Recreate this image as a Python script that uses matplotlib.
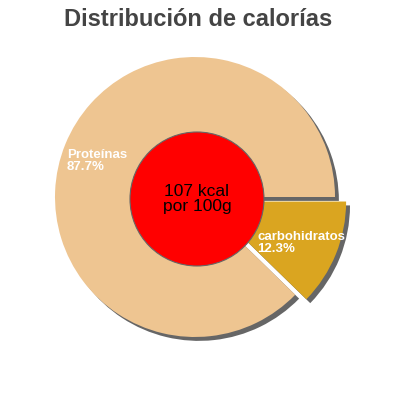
import matplotlib
matplotlib.use("Agg")
from matplotlib import pyplot as plt
from matplotlib.patches import Circle

labels = ["carbohidratos", "Proteínas"]
shares = [12.3, 87.7]
colors = ["#DAA520", "#EEC591"]
energy_text = "107 kcal\npor 100g"
title = "Distribución de calorías"

plt.rcParams["font.family"] = ["Liberation Sans", "DejaVu Sans"]

fig = plt.figure(figsize=(4, 4), dpi=100)
ax = fig.add_axes([0, 0, 1, 1])

center = (195, 203)
radius = 140

# explode is in data units here (not scaled by radius)
wedges, _ = ax.pie(
    shares, colors=colors, startangle=0, counterclock=False,
    explode=[12, 0], center=center, radius=radius, frame=True,
    shadow={"ox": 2.8, "oy": -2.8, "color": "#666666", "alpha": 1, "shade": 0},
    wedgeprops={"linewidth": 0},
)
for w in wedges:
    w.set_zorder(3)

ax.add_patch(Circle((197, 201), 67, facecolor="#FF0000", edgecolor="#666666",
                    linewidth=0.8, zorder=4))
ax.text(197, 201, energy_text, ha="center", va="center", fontsize=12.5,
        color="black", zorder=5, linespacing=1.0)

ax.text(67, 251, f"{labels[1]}\n{shares[1]}%", color="white", fontsize=9.5,
        fontweight="bold", ha="left", va="top", linespacing=0.95, zorder=5)
ax.text(257, 169, f"{labels[0]}\n{shares[0]}%", color="white", fontsize=9.5,
        fontweight="bold", ha="left", va="top", linespacing=0.95, zorder=5)

ax.set_xlim(0, 400)
ax.set_ylim(0, 400)
ax.set_aspect("equal")
ax.axis("off")
fig.text(0.495, 0.95, title, ha="center", va="center", fontsize=17,
         fontweight="bold", color="#444444")

fig.savefig("out.png", dpi=100)
